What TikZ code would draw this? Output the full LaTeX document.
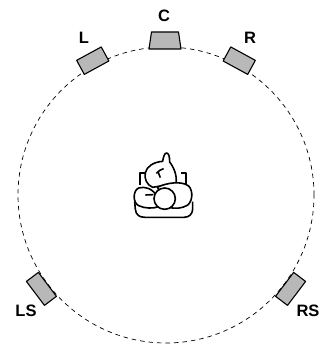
\documentclass[tikz,border=0pt]{standalone}
\usepackage{fontspec}
\setmainfont{Liberation Sans}
\usetikzlibrary{calc}
\begin{document}
\begin{tikzpicture}[x=1pt,y=1pt,line join=round,
  spk/.style={draw,line width=1.1pt,fill=black!28,inner sep=0pt,
    minimum width=28pt,minimum height=16pt},
  lbl/.style={font=\fontsize{16.5}{16.5}\selectfont\bfseries,inner sep=0pt},
  body/.style={line width=1.6pt,fill=white}]
\useasboundingbox (0,0) rectangle (326,344);
\def\r{148}
\coordinate (o) at (166,149);
\draw[dash pattern=on 4.5pt off 4pt,line width=0.7pt] (o) circle[radius=\r];
% speakers round the circle
\coordinate (c) at (165,303.5);
\draw[line width=1.1pt,fill=black!28] ($(c)+(-16,-8.5)$) -- ($(c)+(-13.5,8.5)$)
  -- ($(c)+(13.5,8.5)$) -- ($(c)+(16,-8.5)$) -- cycle;
\node[spk,rotate=28.6] (l) at ($(o)+(118.6:153)$) {};
\node[spk,rotate=-28.6] (r) at ($(o)+(61.4:153)$) {};
\node[spk,minimum width=30pt,minimum height=15pt,rotate=127] (ls) at ($(o)+(217:156)$) {};
\node[spk,minimum width=30pt,minimum height=15pt,rotate=53] (rs) at ($(o)+(323:156)$) {};
\node[lbl] (lblc) at (164,328) {C};
\node[lbl] (lbll) at (84,306.5) {L};
\node[lbl] (lblr) at (250,306.5) {R};
\node[lbl] (lblls) at (26,33) {LS};
\node[lbl] (lblrs) at (308,33) {RS};
% listener in the chair
\begin{scope}[shift={(120,204)},x=0.3333pt,y=-0.3333pt,line width=1.6pt]
\draw (44,185) -- (46,208) .. controls (48,225) and (58,232) .. (75,232)
  -- (192,232) .. controls (208,232) and (217,222) .. (218,208) -- (218,185);
\draw (60,135) -- (60,99) -- (76,99);
\draw (198,132) -- (198,99) -- (182,99);
\draw[body] (98,142) .. controls (80,135) and (72,115) .. (76,98)
  .. controls (80,80) and (100,66) .. (128,64)
  .. controls (130,52) and (133,40) .. (139,39)
  .. controls (146,39) and (149,48) .. (149,66)
  .. controls (160,80) and (172,105) .. (168,130) -- cycle;
\draw (109,100) .. controls (116,92) and (124,88) .. (131,86);
\draw (114,95) -- (121,113);
\draw[body] (112,142) .. controls (140,128) and (185,122) .. (206,138)
  .. controls (220,152) and (218,185) .. (202,196)
  .. controls (185,206) and (165,206) .. (150,203) -- cycle;
\draw[body] (110,168) .. controls (98,146) and (75,138) .. (56,144)
  .. controls (38,152) and (38,188) .. (56,197)
  .. controls (75,206) and (100,206) .. (116,200);
\draw (76,165) -- (100,164);
\draw[body] (134,176) circle[radius=32];
\end{scope}
\end{tikzpicture}
\end{document}
